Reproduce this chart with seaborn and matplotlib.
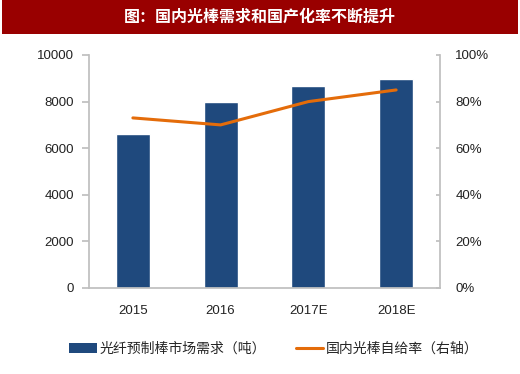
import matplotlib
matplotlib.use("Agg")
import matplotlib.pyplot as plt
import seaborn as sns
import numpy as np
from matplotlib.patches import Patch, Rectangle
from matplotlib.lines import Line2D
from matplotlib.ticker import FixedLocator, PercentFormatter

years = ["2015", "2016", "2017E", "2018E"]
demand = [6620, 8000, 8660, 8980]
self_rate = [73, 70, 80, 85]

title = "图：国内光棒需求和国产化率不断提升"
bar_label = "光纤预制棒市场需求（吨）"
line_label = "国内光棒自给率（右轴）"

bar_color = "#1F497D"
line_color = "#E46C0A"
axis_gray = "#BFBFBF"

sns.set_theme(style="white")
plt.rcParams["font.family"] = ["Liberation Sans", "Noto Sans CJK SC", "DejaVu Sans"]

fig = plt.figure(figsize=(5.2, 3.74), dpi=100)
fig.patch.set_facecolor("white")

# red title banner
fig.patches.append(Rectangle((2 / 520, 1 - 34 / 374), 516 / 520, 34 / 374,
                             transform=fig.transFigure, facecolor="#990000",
                             edgecolor="none", zorder=0))
fig.text(0.5, 1 - 17 / 374, title, color="white", fontsize=11.5, fontweight="bold",
         ha="center", va="center", family=["Noto Sans CJK SC", "DejaVu Sans"])

ax = fig.add_axes([89 / 520, 86 / 374, 351 / 520, 233 / 374])
sns.barplot(x=years, y=demand, color=bar_color, width=0.39, saturation=1, ax=ax)
ax.set_xlim(-0.5, len(years) - 0.5)
ax.set_ylim(0, 10000)
ax.set_yticks(np.arange(0, 10001, 2000))
ax.set_xlabel("")
ax.set_ylabel("")

ax.tick_params(axis="x", which="major", length=0, labelsize=9.5, pad=12, colors="#222222")
ax.xaxis.set_minor_locator(FixedLocator(np.arange(len(years) + 1) - 0.5))
ax.tick_params(axis="x", which="minor", length=4, color=axis_gray, direction="out")
ax.tick_params(axis="y", length=5, color=axis_gray, direction="out", labelsize=9.5,
               labelcolor="#222222", pad=6)
for side in ["left", "bottom"]:
    ax.spines[side].set_color(axis_gray)
ax.spines["top"].set_visible(False)
ax.spines["right"].set_visible(False)

ax2 = ax.twinx()
sns.lineplot(x=np.arange(len(years)), y=self_rate, color=line_color, linewidth=2.2, ax=ax2)
ax2.set_ylim(0, 100)
ax2.set_yticks(np.arange(0, 101, 20))
ax2.yaxis.set_major_formatter(PercentFormatter(decimals=0))
ax2.tick_params(axis="y", length=3, color=axis_gray, direction="in", labelsize=9.5,
                labelcolor="#222222", pad=11)
ax2.spines["right"].set_color(axis_gray)
for side in ["left", "top", "bottom"]:
    ax2.spines[side].set_visible(False)
ax2.set_ylabel("")

handles = [Patch(facecolor=bar_color, edgecolor="none"),
           Line2D([0], [0], color=line_color, linewidth=2.2)]
fig.legend(handles, [bar_label, line_label], loc="center", ncol=2,
           bbox_to_anchor=(274 / 520, 1 - 349 / 374), frameon=False,
           handlelength=2.0, handletextpad=0.2, columnspacing=2.1,
           prop={"family": ["Noto Sans CJK SC", "DejaVu Sans"], "size": 10})

fig.savefig("out.png", dpi=100)
